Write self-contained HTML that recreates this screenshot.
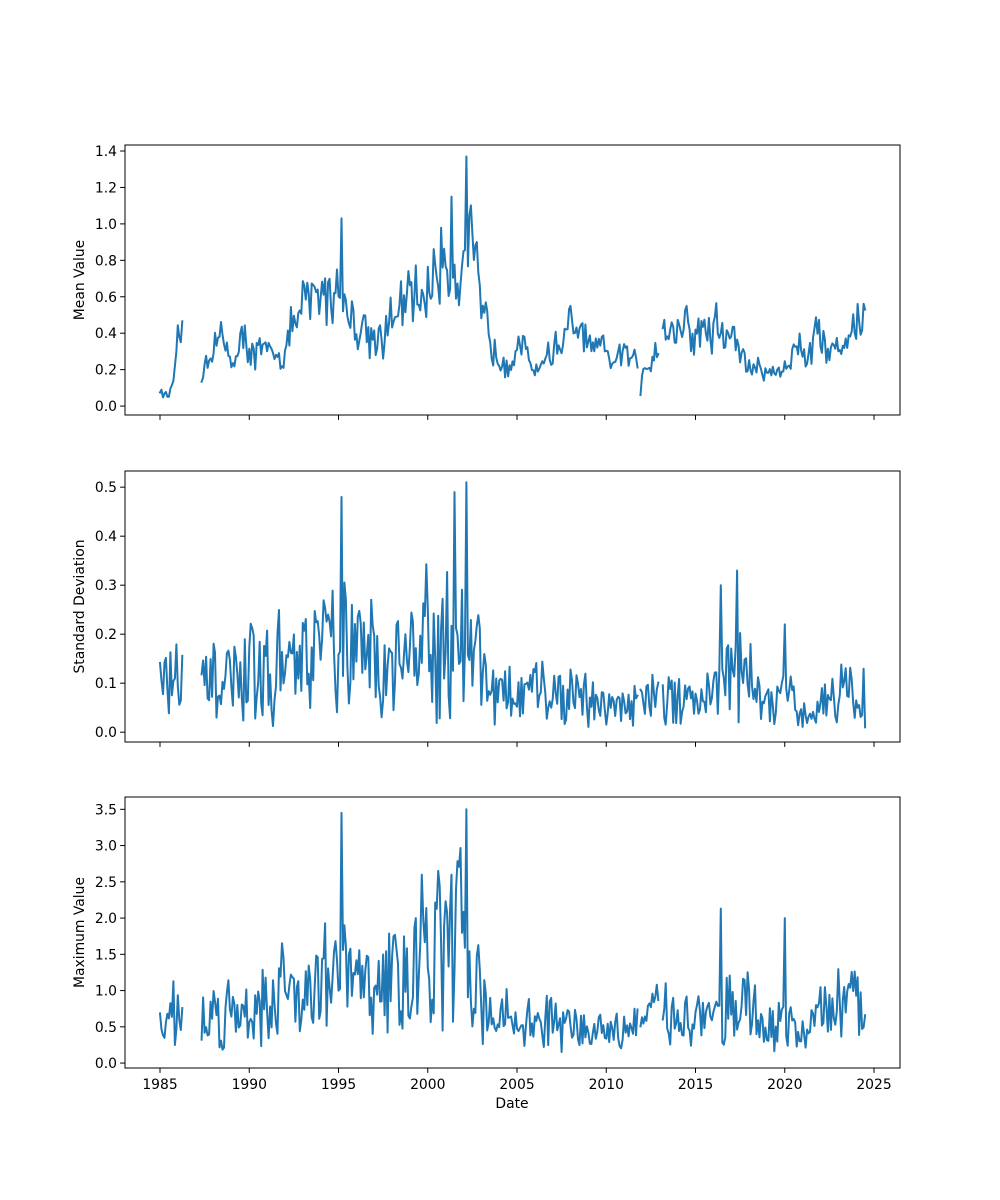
<!DOCTYPE html>
<html><head><meta charset="utf-8"><style>
html,body{margin:0;padding:0;background:#fff;}
svg{display:block;font-family:"DejaVu Sans","Liberation Sans",sans-serif;font-size:13.9px;}
</style></head><body>
<svg id="s" width="1000" height="1200" xmlns="http://www.w3.org/2000/svg"></svg>
<script>
const S=document.getElementById('s');
const L=125,R=900;
const xOf=y=>160+(y-1985)*17.85;
let seed=12345;function rnd(){seed=(seed*16807)%2147483647;return (seed-1)/2147483646;}
function interp(kp,t){for(let i=0;i<kp.length-1;i++){if(t>=kp[i][0]&&t<=kp[i+1][0]){const f=(t-kp[i][0])/(kp[i+1][0]-kp[i][0]);return kp[i][1]+f*(kp[i+1][1]-kp[i][1]);}}return kp[t<kp[0][0]?0:kp.length-1][1];}
const gaps=[[1986.3,1987.3],[2011.75,2011.9],[2012.95,2013.1]];
function inGap(t){return gaps.some(g=>t>g[0]&&t<g[1]);}
function series(kp,amp,spikes,minv,rough){
 const pts=[];let e=0;
 for(let m=0;m<=474;m++){const t=1985+m/12;
  e=rough*e+(1-rough)*(rnd()*2-1)*1.8;
  let v=interp(kp,t)*(1+amp*e+amp*0.6*(rnd()*2-1));
  spikes.forEach(s=>{if(Math.abs(t-s[0])<0.042)v=s[1];});
  if(v<minv)v=minv+rnd()*minv;
  pts.push(inGap(t)?null:[t,v]);}
 return pts;}
function panel(top,bot,v0,v1,ticks,fmt,label,pts,xlabels){
 const y=v=>bot-(v-v0)/(v1-v0)*(bot-top);
 let h='';
 let d='',pen=false;
 pts.forEach(p=>{if(!p){pen=false;return;}d+=(pen?'L':'M')+xOf(p[0]).toFixed(1)+' '+y(p[1]).toFixed(1);pen=true;});
 h+=`<path d="${d}" fill="none" stroke="#1f77b4" stroke-width="2" stroke-linejoin="round" stroke-linecap="square"/>`;
 h+=`<rect x="${L}" y="${top}" width="${R-L}" height="${bot-top}" fill="none" stroke="#000" stroke-width="1"/>`;
 ticks.forEach(tv=>{const yy=y(tv);h+=`<line x1="${L-4.9}" x2="${L}" y1="${yy}" y2="${yy}" stroke="#000"/>`;
  h+=`<text x="${L-8}" y="${yy+5}" text-anchor="end">${fmt(tv)}</text>`;});
 for(let yr=1985;yr<=2025;yr+=5){const xx=xOf(yr);h+=`<line x1="${xx}" x2="${xx}" y1="${bot}" y2="${bot+4.9}" stroke="#000"/>`;
  if(xlabels)h+=`<text x="${xx}" y="${bot+21}" text-anchor="middle">${yr}</text>`;}
 h+=`<text transform="translate(84 ${(top+bot)/2}) rotate(-90)" text-anchor="middle">${label}</text>`;
 return h;}
const meanKp=[[1985,0.08],[1985.5,0.05],[1986,0.3],[1986.25,0.4],[1987.3,0.18],[1988,0.38],[1989,0.28],[1990,0.35],[1991,0.25],[1992,0.35],[1993,0.5],[1994,0.62],[1995,0.68],[1996,0.45],[1997,0.4],[1998,0.45],[1999,0.55],[2000,0.65],[2001,0.85],[2002,0.8],[2002.3,0.9],[2003,0.45],[2004,0.3],[2005,0.33],[2006,0.22],[2007,0.3],[2008,0.42],[2009,0.33],[2010,0.25],[2011,0.27],[2012,0.2],[2013,0.4],[2014,0.45],[2015,0.4],[2016,0.42],[2017,0.38],[2018,0.22],[2019,0.18],[2020,0.22],[2021,0.35],[2022,0.38],[2023,0.3],[2024,0.5],[2024.5,0.52]];
const sdKp=[[1985,0.1],[1986.3,0.12],[1987.3,0.09],[1990,0.11],[1993,0.13],[1995,0.18],[1997,0.14],[2000,0.18],[2002,0.2],[2003,0.15],[2004,0.07],[2007,0.08],[2010,0.05],[2013,0.08],[2016,0.08],[2017.5,0.13],[2019,0.05],[2020,0.07],[2021,0.03],[2023,0.09],[2024.5,0.07]];
const maxKp=[[1985,0.5],[1986,0.8],[1986.3,0.9],[1987.3,0.6],[1990,0.8],[1993,1.1],[1995,1.2],[1997,1.0],[1999,1.3],[2001,1.5],[2002.3,1.8],[2003,0.9],[2004,0.6],[2007,0.55],[2010,0.4],[2012,0.6],[2013,0.65],[2016,0.7],[2017.5,0.9],[2019,0.45],[2020,0.55],[2021,0.45],[2023,0.8],[2024.5,0.7]];
const mean=series(meanKp,0.28,[[1985.1,0.09],[2002.2,1.37],[2001.3,1.15],[1995.2,1.03],[2011.9,0.06]],0.02,0.55);
const sd=series(sdKp,0.5,[[1995.2,0.48],[2001.5,0.49],[2002.2,0.51],[2017.3,0.33],[2016.4,0.3],[2020,0.22],[1991.3,0.005],[2024.5,0.01]],0.01,0.2);
const mx=series(maxKp,0.4,[[1995.2,3.45],[2002.2,3.5],[2016.4,2.13],[2020,2.0],[2000.6,2.65],[2001.3,2.6],[1999.7,2.6]],0.15,0.2);
let h='';
h+=panel(145,415,-0.049,1.433,[0,0.2,0.4,0.6,0.8,1.0,1.2,1.4],v=>v.toFixed(1),'Mean Value',mean,false);
h+=panel(471,742,-0.02,0.533,[0,0.1,0.2,0.3,0.4,0.5],v=>v.toFixed(1),'Standard Deviation',sd,false);
h+=panel(797,1068,-0.068,3.67,[0,0.5,1,1.5,2,2.5,3,3.5],v=>v.toFixed(1),'Maximum Value',mx,true);
h+=`<text x="512" y="1108" text-anchor="middle">Date</text>`;
S.innerHTML=h;
</script>
</body></html>
